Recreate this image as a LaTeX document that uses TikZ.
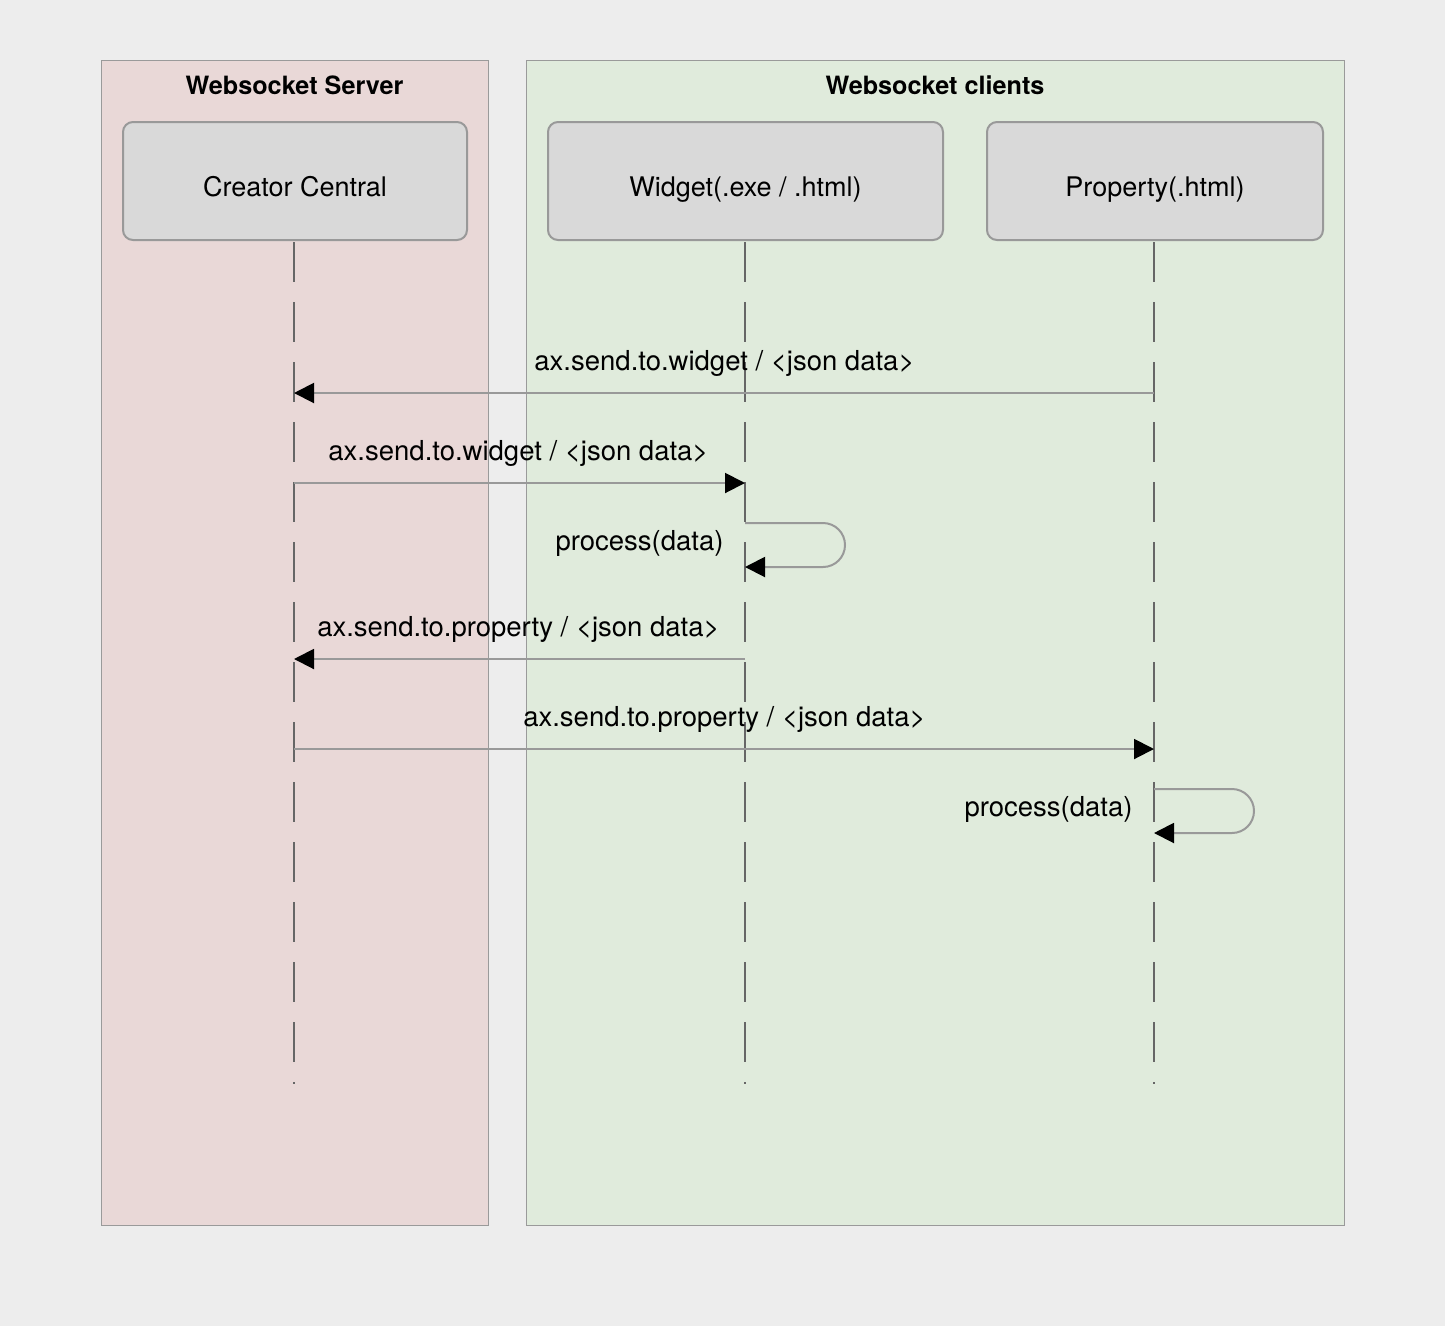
\documentclass[tikz,border=0pt]{standalone}
\usepackage{fontspec}
\setmainfont{TeX Gyre Heros}
\usetikzlibrary{arrows.meta}
\definecolor{bgc}{HTML}{EDEDED}
\definecolor{serverfill}{HTML}{E9D8D7}
\definecolor{clientfill}{HTML}{E0EBDC}
\definecolor{lanestroke}{HTML}{9A9A9A}
\definecolor{actorfill}{HTML}{D9D9D9}
\definecolor{actorstroke}{HTML}{999999}
\definecolor{lifec}{HTML}{666666}
\definecolor{msgc}{HTML}{999999}
\tikzset{
  lane/.style={draw=lanestroke, line width=1.3pt, anchor=north west, inner sep=0pt},
  lanetitle/.style={anchor=base, inner sep=0pt, font=\fontsize{25.2}{30}\selectfont\bfseries},
  actor/.style={draw=actorstroke, fill=actorfill, line width=2pt, rounded corners=10pt, inner sep=0pt, text height=30pt, text depth=0pt, font=\fontsize{27}{32}\selectfont},
  lifeline/.style={draw=lifec, line width=2.5pt, dash pattern=on 40pt off 20pt},
  msg/.style={draw=msgc, line width=2pt, -{Triangle[length=20pt,width=20pt,fill=black,color=black]}},
  loopmsg/.style={msg, rounded corners=22pt},
  msglabel/.style={anchor=base, inner sep=0pt, font=\fontsize{27.5}{32}\selectfont},
}
\begin{document}
\begin{tikzpicture}[x=1pt,y=-1pt]
\useasboundingbox[fill=bgc] (0,0) rectangle (1445,1326);
% lanes
\node[lane, fill=serverfill, minimum width=387pt, minimum height=1165pt] (server) at (101,60) {};
\node[lane, fill=clientfill, minimum width=818pt, minimum height=1165pt] (clients) at (526,60) {};
\node[lanetitle] (servertitle) at (294.5,94) {Websocket Server};
\node[lanetitle] (clienttitle) at (935,94) {Websocket clients};
% actors
\node[actor, minimum width=344pt, minimum height=118pt] (cc) at (295,181) {Creator Central};
\node[actor, minimum width=395pt, minimum height=118pt] (wg) at (745.5,181) {Widget(.exe / .html)};
\node[actor, minimum width=336pt, minimum height=118pt] (pr) at (1155,181) {Property(.html)};
% lifeline coordinates
\coordinate (ccTop) at (294,242);  \coordinate (ccEnd) at (294,1084);
\coordinate (wgTop) at (745,242);  \coordinate (wgEnd) at (745,1084);
\coordinate (prTop) at (1154,242); \coordinate (prEnd) at (1154,1084);
\draw[lifeline] (ccTop) -- (ccEnd);
\draw[lifeline] (wgTop) -- (wgEnd);
\draw[lifeline] (prTop) -- (prEnd);
% message points
\coordinate (pr1) at (1154,393); \coordinate (cc1) at (294,393);
\coordinate (cc2) at (294,483);  \coordinate (wg2) at (745,483);
\coordinate (wg3a) at (745,523); \coordinate (wg3b) at (745,567);
\coordinate (wg4) at (745,659);  \coordinate (cc4) at (294,659);
\coordinate (cc5) at (294,749);  \coordinate (pr5) at (1154,749);
\coordinate (pr6a) at (1154,789); \coordinate (pr6b) at (1154,833);
% messages
\draw[msg] (pr1) -- (cc1);
\node[msglabel] (l1) at (724.5,370) {ax.send.to.widget / <json data>};
\draw[msg] (cc2) -- (wg2);
\node[msglabel] (l2) at (518.5,460) {ax.send.to.widget / <json data>};
\draw[loopmsg] (wg3a) -- (845,523) -- (845,567) -- (wg3b);
\node[msglabel] (l3) at (639.5,550) {process(data)};
\draw[msg] (wg4) -- (cc4);
\node[msglabel] (l4) at (518.5,636) {ax.send.to.property / <json data>};
\draw[msg] (cc5) -- (pr5);
\node[msglabel] (l5) at (724.5,726) {ax.send.to.property / <json data>};
\draw[loopmsg] (pr6a) -- (1254,789) -- (1254,833) -- (pr6b);
\node[msglabel] (l6) at (1048.5,816) {process(data)};
\end{tikzpicture}
\end{document}
